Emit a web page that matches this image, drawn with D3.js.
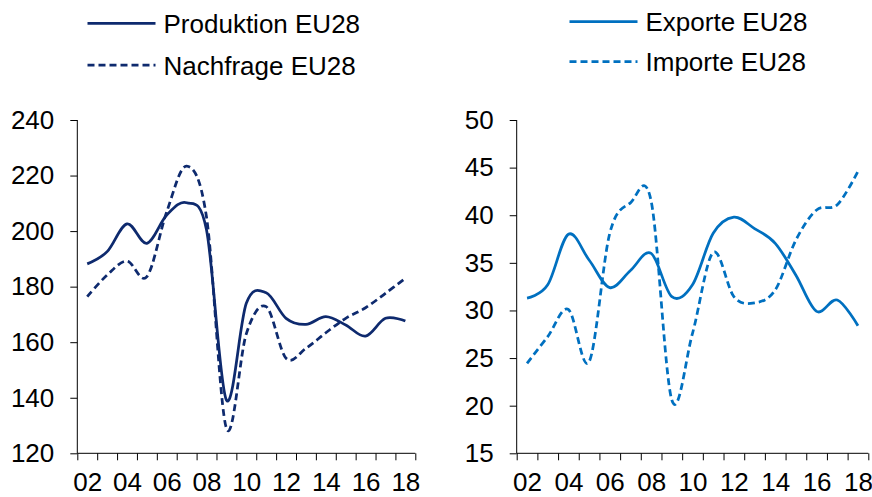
<!DOCTYPE html>
<html>
<head>
<meta charset="utf-8">
<script src="https://cdn.jsdelivr.net/npm/d3@7"></script>
<style>
  html, body { margin: 0; padding: 0; background: #fff; }
  svg { display: block; font-family: "Liberation Sans", Arial, sans-serif; }
</style>
</head>
<body>
<svg id="chart" width="872" height="497"></svg>
<script>
// ---- data ----
const years = [2002,2003,2004,2005,2006,2007,2008,2009,2010,2011,2012,2013,2014,2015,2016,2017,2018];
const produktion = [188.2,192.6,202.6,195.6,205.8,210.2,200.4,139.2,174,177.8,168.6,166.4,169.2,166.2,162.2,168.6,167.6];
const nachfrage  = [176.4,184.2,189.2,183.6,207,223.4,205,129,163,172.8,154.2,157.8,163.4,168.6,172.4,177.6,183];
const exporte    = [31.3,32.7,38.0,35.3,32.4,34.2,36.0,31.45,32.7,38.1,39.8,38.6,37.05,33.7,29.9,31.1,28.4];
const importe    = [24.45,27.25,30.1,24.6,38.1,41.3,41.5,20.6,27.6,36.1,31.45,30.8,32.15,37.4,40.55,41.1,44.6];
const xLabelYears = [2002,2004,2006,2008,2010,2012,2014,2016,2018];
const leftYTicks = [120,140,160,180,200,220,240];
const rightYTicks = [15,20,25,30,35,40,45,50];
const leftSeries = [
  {name: "Produktion EU28", values: produktion, dashed: false},
  {name: "Nachfrage EU28", values: nachfrage, dashed: true}
];
const rightSeries = [
  {name: "Exporte EU28", values: exporte, dashed: false},
  {name: "Importe EU28", values: importe, dashed: true}
];

const navy = "#0E2A6E";
const blue = "#0070C0";
const svg = d3.select("#chart");
const FONT = "Liberation Sans, Arial, sans-serif";

function panel(opts) {
  const {x0, x1, y0, y1, yDomain, yTicks, series, color, legend} = opts;
  const x = d3.scaleLinear().domain([years[0] - 0.5, years[years.length - 1] + 0.5]).range([x0, x1]);
  const y = d3.scaleLinear().domain(yDomain).range([y1, y0]);
  const g = svg.append("g");

  // lines
  const line = d3.line()
    .x((d, i) => x(years[i]))
    .y(d => y(d))
    .curve(d3.curveCatmullRom.alpha(0));
  series.forEach(s => {
    g.append("path")
      .datum(s.values)
      .attr("d", line)
      .attr("fill", "none")
      .attr("stroke", color)
      .attr("stroke-width", 2.75)
      .attr("stroke-dasharray", s.dashed ? "7,4" : null);
  });

  // y axis
  const ya = g.append("g").attr("transform", `translate(${x0},0)`)
    .call(d3.axisLeft(y).tickValues(yTicks).tickSize(7).tickPadding(16).tickFormat(d3.format("d")));
  ya.selectAll("text").attr("font-size", 26).attr("fill", "#000").attr("font-family", FONT);
  ya.selectAll("line").attr("stroke", "#000");
  ya.select(".domain").attr("stroke", "#000").attr("d", `M0,${y1}V${y0}`);

  // x axis ticks at category boundaries
  const bounds = years.map(v => v - 0.5).concat([years[years.length - 1] + 0.5]);
  const xa = g.append("g").attr("transform", `translate(0,${y1})`)
    .call(d3.axisBottom(x).tickValues(bounds).tickSize(7).tickFormat(""));
  xa.selectAll("line").attr("stroke", "#000");
  xa.select(".domain").attr("stroke", "#000").attr("d", `M${x0},0H${x1}`);

  // x labels
  const xl = g.append("g").attr("transform", `translate(0,${y1})`)
    .call(d3.axisBottom(x).tickValues(xLabelYears).tickSize(0).tickPadding(19)
      .tickFormat(d => String(d % 100).padStart(2, "0")));
  xl.select(".domain").remove();
  xl.selectAll("text").attr("font-size", 26).attr("fill", "#000").attr("font-family", FONT);

  // legend
  const lg = svg.append("g");
  series.forEach((s, i) => {
    const ly = legend.ys[i];
    lg.append("line")
      .attr("x1", legend.x).attr("x2", legend.x + 68)
      .attr("y1", ly).attr("y2", ly)
      .attr("stroke", color).attr("stroke-width", 2.75)
      .attr("stroke-dasharray", s.dashed ? "7,4" : null);
    lg.append("text")
      .attr("x", legend.x + 76).attr("y", ly + 9.5)
      .attr("font-size", 26).attr("fill", "#000")
      .text(s.name);
  });
}

panel({x0: 77.3, x1: 415.3, y0: 120, y1: 453.3, yDomain: [120, 240], yTicks: leftYTicks,
  series: leftSeries, color: navy, legend: {x: 87.5, ys: [23.3, 65]}});
panel({x0: 516.7, x1: 868.3, y0: 120, y1: 453.3, yDomain: [15, 50], yTicks: rightYTicks,
  series: rightSeries, color: blue, legend: {x: 569.5, ys: [21.7, 61.7]}});
</script>
</body>
</html>
